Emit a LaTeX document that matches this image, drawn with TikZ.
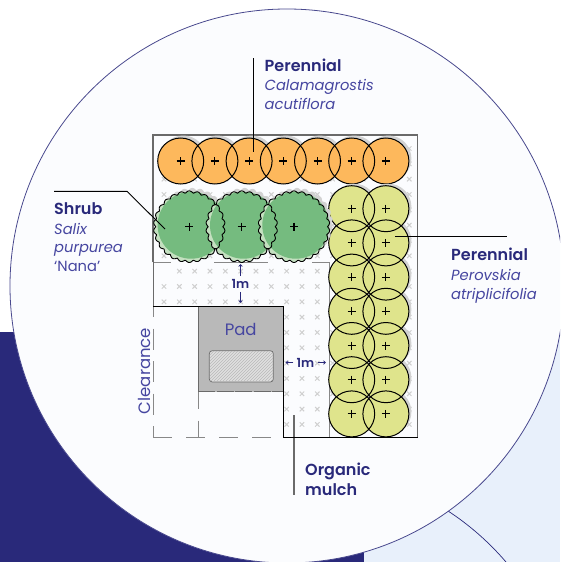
\documentclass[tikz,border=0pt]{standalone}
\usepackage{fontspec}
\usepackage{xcolor}
\usepackage{tikz}
\usetikzlibrary{patterns,arrows.meta}
\setmainfont[BoldFont={Poppins SemiBold}]{Poppins}
\definecolor{navy}{HTML}{29297A}
\definecolor{inktext}{HTML}{4646A0}
\definecolor{paleblue}{HTML}{E8F0FB}
\definecolor{disc}{HTML}{FBFCFE}
\definecolor{orangeplant}{HTML}{FDB85C}
\definecolor{greenplant}{HTML}{75BB7F}
\definecolor{greenrim}{HTML}{C4E0C0}
\definecolor{yellowplant}{HTML}{DFE48C}
\definecolor{shadowgrey}{HTML}{D2D2D2}
\definecolor{crossgrey}{HTML}{CFCFCF}
\definecolor{padgrey}{HTML}{B9B9B9}
\definecolor{wallgrey}{HTML}{6A6A6A}
\newcommand{\plantmark}[2]{\draw[line width=1.1pt] (#1-4,#2) -- (#1+4,#2) (#1,#2-4) -- (#1,#2+4);}
\newcommand{\scallop}[3]{plot[domain=0:360,samples=241,variable=\t] ({#1+(#3+2.3*abs(sin(13*\t)))*cos(\t)},{#2+(#3+2.3*abs(sin(13*\t)))*sin(\t)}) -- cycle}
\tikzset{
  headlabel/.style={font=\fontsize{16}{17}\selectfont\bfseries,text=navy,inner sep=0pt},
  namelabel/.style={font=\fontsize{14.7}{16}\selectfont\itshape,text=inktext,inner sep=0pt},
  planlabel/.style={font=\fontsize{16.5}{18}\selectfont,text=inktext,inner sep=0pt},
  gaplabel/.style={font=\fontsize{12.5}{14}\selectfont\bfseries,text=navy,fill=disc,inner sep=1pt},
  gaparrow/.style={navy,line width=0.7pt,shorten <=2pt,-{Straight Barb[length=2pt,width=3.5pt]}},
  leader/.style={black,line width=0.9pt},
  clearance/.style={wallgrey!80,line width=1pt},
  plantedge/.style={black,line width=1pt}
}
\begin{document}
\begin{tikzpicture}[x=1pt,y=-1pt]
\useasboundingbox (0,0) rectangle (560,562);
\clip (0,0) rectangle (560,562);
\fill[white] (0,0) rectangle (560,562);
\fill[navy] (0,332) rectangle (364,562);
\fill[paleblue] (364,332) rectangle (560,562);
\fill[paleblue] (448,300) rectangle (560,562);
\draw[navy,line width=0.7pt] (448,511) .. controls (468,524) and (488,541) .. (506,562);
\filldraw[fill=disc,draw=navy!85,line width=0.8pt] (287,286) circle (277);
% mulch crosses
\foreach \i in {0,...,16} \foreach \j in {0,...,10}
  \draw[crossgrey,line width=1pt] (164+15.33*\i-2.2,148.5+15.33*\j-2.2) -- ++(4.4,4.4) (164+15.33*\i-2.2,148.5+15.33*\j+2.2) -- ++(4.4,-4.4);
\foreach \i in {8,...,16} \foreach \j in {11,...,18}
  \draw[crossgrey,line width=1pt] (164+15.33*\i-2.2,148.5+15.33*\j-2.2) -- ++(4.4,4.4) (164+15.33*\i-2.2,148.5+15.33*\j+2.2) -- ++(4.4,-4.4);
% clearance area
\fill[disc] (154,307) rectangle (283,436);
\fill[disc] (158,266) rectangle (171,276);
\draw[clearance,dash pattern=on 21pt off 11.5pt,dash phase=10pt] (153,306) -- (153,437);
\draw[clearance,dash pattern=on 19pt off 14pt] (153,437) -- (283,437);
\draw[clearance,dash pattern=on 17pt off 12pt] (198,391.5) -- (198,437);
% plot edges
\draw[wallgrey,line width=1.3pt] (153,262) -- (153,135) -- (417.5,135) -- (417.5,437);
\draw[clearance] (153,262) -- (171,262) (214,262) -- (268,262) (312,262) -- (329,262);
\draw[clearance] (329,262) -- (329,437);
\draw[wallgrey,line width=1pt] (153,262) -- (153,306.5);
% organic mulch leader sits under the edge
\coordinate (mulchtop) at (294,415);
\coordinate (mulchend) at (294,495);
\draw[wallgrey,line width=1.2pt] (mulchtop) -- (mulchend);
\draw[black,line width=1pt] (153,306.5) -- (283.5,306.5) -- (283.5,437) -- (417.5,437);
% pad
\fill[padgrey] (198,306.5) rectangle (283.5,391.5);
\draw[wallgrey,line width=1pt] (198,306.5) -- (198,391.5);
\draw[wallgrey,line width=1pt,dash pattern=on 17pt off 1.5pt] (198,391.5) -- (283.5,391.5);
\draw[black,line width=1pt] (198,306.5) -- (283.5,306.5) -- (283.5,391.5);
\filldraw[fill=black!12,draw=wallgrey,line width=0.7pt,rounded corners=3pt] (209.3,350.7) rectangle (273.3,382);
\fill[pattern=north east lines,pattern color=black!28,rounded corners=3pt] (209.8,351.2) rectangle (272.8,381.5);
% perennial rows
\foreach \cx in {180.7,214.9,249.1,283.3,317.5,351.7,385.9} \fill[shadowgrey] (\cx+2.5,161-2.5) circle (23);
\foreach \cx in {180.7,214.9,249.1,283.3,317.5,351.7,385.9} \fill[orangeplant] (\cx,161) circle (23);
\foreach \cx in {180.7,214.9,249.1,283.3,317.5,351.7,385.9} {
  \draw[plantedge] (\cx,161) circle (23);
  \plantmark{\cx}{161}
}
\foreach \cy in {208.7,242.9,277.1,311.3,345.5,379.7,413.9} {
  \fill[shadowgrey] (351.7+2.5,\cy-2) circle (23);
  \fill[shadowgrey] (385.9+2.5,\cy-2) circle (23);
}
\foreach \cy in {208.7,242.9,277.1,311.3,345.5,379.7,413.9} {
  \fill[yellowplant] (351.7,\cy) circle (23);
  \fill[yellowplant] (385.9,\cy) circle (23);
}
\foreach \cy in {208.7,242.9,277.1,311.3,345.5,379.7,413.9} {
  \draw[plantedge] (351.7,\cy) circle (23) (385.9,\cy) circle (23);
  \plantmark{351.7}{\cy}
  \plantmark{385.9}{\cy}
}
% shrubs
\foreach \cx in {189.3,241.7,294} \fill[shadowgrey] \scallop{\cx+3}{226.7-3}{33.5};
\foreach \cx in {189.3,241.7,294} {
  \fill[greenrim] \scallop{\cx}{226.7}{33.5};
  \fill[greenplant] (\cx+1.8,226.7-1.5) circle (33.5);
}
\foreach \cx in {189.3,241.7,294} {
  \draw[black,line width=0.9pt,line join=round] \scallop{\cx}{226.7}{33.5};
  \plantmark{\cx}{226.7}
}
% leaders
\coordinate (calamatop) at (253.4,58);
\coordinate (calamaend) at (253.4,151.5);
\draw[leader] (calamatop) -- (calamaend);
\coordinate (salixstart) at (54,191.3);
\coordinate (salixbend) at (127,191.3);
\coordinate (salixend) at (165,229);
\draw[leader] (salixstart) -- (salixbend) -- (salixend);
\coordinate (perovskiaend) at (395,236.2);
\coordinate (perovskiastart) at (506.7,236.2);
\draw[leader] (perovskiastart) -- (perovskiaend);
% labels
\node[headlabel,anchor=base west] (calamahead) at (264.5,71) {Perennial};
\node[namelabel,anchor=base west] (calamaname) at (264.5,90.5) {Calamagrostis};
\node[namelabel,anchor=base west] (calamaspec) at (264.5,109) {acutiflora};
\node[headlabel,anchor=base west] (salixhead) at (54,214) {Shrub};
\node[namelabel,anchor=base west] (salixname) at (54,234) {Salix};
\node[namelabel,anchor=base west] (salixspec) at (54,252.7) {purpurea};
\node[namelabel,anchor=base west,font=\fontsize{14.7}{16}\selectfont] (salixcult) at (54,271.5) {`Nana'};
\node[headlabel,anchor=base west] (perovskiahead) at (451,260) {Perennial};
\node[namelabel,anchor=base west] (perovskianame) at (451,280) {Perovskia};
\node[namelabel,anchor=base west] (perovskiaspec) at (451,299) {atriplicifolia};
\node[headlabel,anchor=base west] (mulchhead) at (305,475) {Organic};
\node[headlabel,anchor=base west] (mulchname) at (305,495) {mulch};
\node[planlabel,anchor=base] (padlabel) at (240.7,335) {Pad};
\node[planlabel,anchor=base,rotate=90] (clearlabel) at (150.5,371) {Clearance};
% one metre gaps
\node[gaplabel] (gaptop) at (240.5,284) {1m};
\coordinate (gaptopup) at (240.5,264);
\coordinate (gaptopdown) at (240.5,303);
\draw[gaparrow] (gaptop) -- (gaptopup);
\draw[gaparrow] (gaptop) -- (gaptopdown);
\node[gaplabel] (gapside) at (305.5,362.5) {1m};
\coordinate (gapsideleft) at (285.5,362.5);
\coordinate (gapsideright) at (326,362.5);
\draw[gaparrow] (gapside) -- (gapsideleft);
\draw[gaparrow] (gapside) -- (gapsideright);
\end{tikzpicture}
\end{document}
